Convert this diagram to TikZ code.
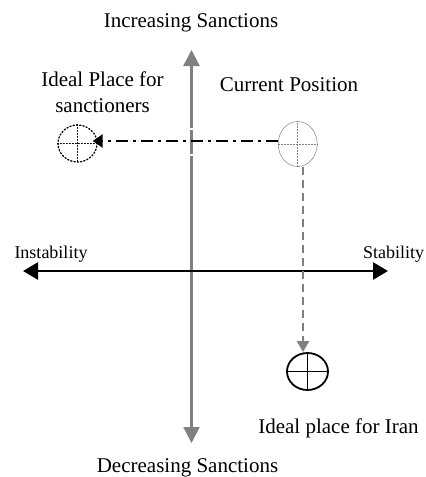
\documentclass[tikz,border=0pt]{standalone}
\usepackage{fontspec}
\setmainfont{Liberation Serif}
\usetikzlibrary{arrows.meta,shapes.geometric}
\definecolor{axgray}{RGB}{128,128,128}
\begin{document}
\begin{tikzpicture}[x=1pt,y=-1pt,
  lbl/.style={font=\fontsize{21}{26.7}\selectfont, align=center, inner sep=0pt, anchor=base},
  slbl/.style={font=\fontsize{18}{22}\selectfont, inner sep=0pt, anchor=base},
  axisv/.style={draw=axgray, line width=2.3pt, {Triangle[length=16pt,width=16pt]}-{Triangle[length=16pt,width=16pt]}},
  axish/.style={draw=black, line width=2.7pt, {Triangle[length=15pt,width=17pt]}-{Triangle[length=15pt,width=17pt]}},
  ]
\useasboundingbox (0,0) rectangle (426,477);
% axes
\coordinate (vt) at (191.5,50);
\coordinate (vb) at (191.5,443);
\coordinate (hl) at (23,271);
\coordinate (hr) at (388,271);
\draw[axisv] (vb) -- (vt);
\draw[white, line width=3pt] (191.5,128) -- (191.5,130) (191.5,154) -- (191.5,156);
\draw[axish] (hl) -- (hr);
% circles
\node[draw, dotted, line width=1.3pt, line cap=round, shape=ellipse, minimum width=39pt, minimum height=37pt, inner sep=0pt] (ideal) at (77.5,143.5) {};
\draw[dotted, line width=1pt, line cap=round] (ideal.west) -- (ideal.east) (ideal.north) -- (ideal.south);
\node[draw=axgray, line width=0.5pt, shape=ellipse, minimum width=39pt, minimum height=45pt, inner sep=0pt] (cur) at (297.7,144) {};
\draw[axgray, densely dotted, line width=0.5pt] (cur.west) -- (cur.east) (cur.north) -- (cur.south);
\node[draw, line width=1.8pt, shape=ellipse, minimum width=41pt, minimum height=37pt, inner sep=0pt] (iran) at (307.5,371.5) {};
\draw[line width=1.8pt] (iran.west) -- (iran.east) (iran.north) -- (iran.south);
% connectors
\coordinate (dds) at (cur.west |- 0,141);
\draw[line width=2.3pt, dash pattern=on 12pt off 5pt on 3pt off 5pt, -{Triangle[length=10pt,width=13pt]}, shorten >=-5pt] (dds) -- (ideal.east |- dds);
\coordinate (dtop) at (303,167);
\draw[axgray, line width=2pt, dash pattern=on 8pt off 5pt, -{Triangle[length=11pt,width=12pt]}] (dtop) -- (dtop |- iran.north);
% labels
\node[lbl] (t1) at (191,27.3) {Increasing Sanctions};
\node[lbl] (t2) at (187.5,472) {Decreasing Sanctions};
\node[lbl] (t3) at (102.5,112.7) {Ideal Place for\\sanctioners};
\node[lbl] (t4) at (289,91) {Current Position};
\node[slbl] (t5) at (51,258) {Instability};
\node[slbl, anchor=base west] (t6) at (363,258) {Stability};
\node[lbl] (t7) at (338.5,433) {Ideal place for Iran};
\end{tikzpicture}
\end{document}
